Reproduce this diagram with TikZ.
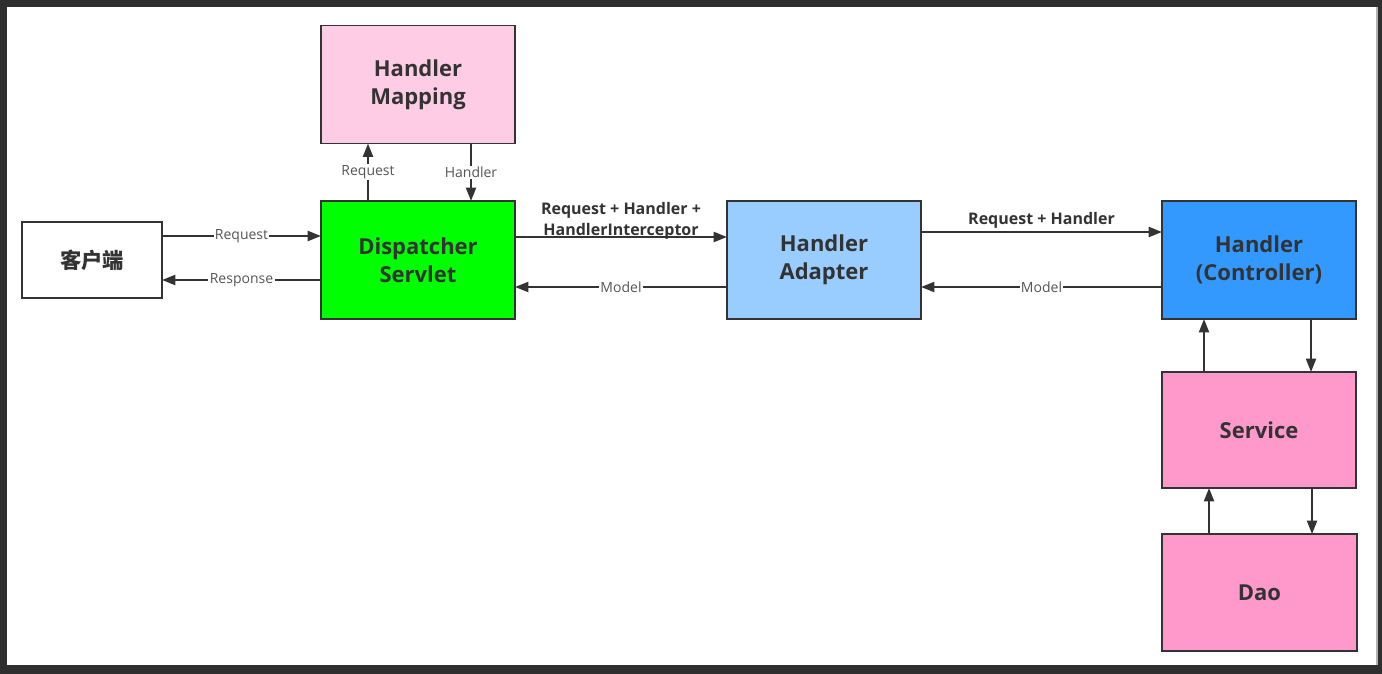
\documentclass[tikz,border=0pt]{standalone}
\usepackage{fontspec}
\setmainfont{Open Sans}
\newfontfamily\cjk{Noto Sans CJK SC}
\usetikzlibrary{arrows.meta}
\definecolor{ink}{HTML}{333333}
\definecolor{lblgray}{HTML}{555555}
\definecolor{framec}{HTML}{2F2F2F}
\definecolor{hmfill}{HTML}{FFCCE6}
\definecolor{dsfill}{HTML}{00FF00}
\definecolor{hafill}{HTML}{99CCFF}
\definecolor{hcfill}{HTML}{3399FF}
\definecolor{svfill}{HTML}{FF99CC}
\begin{document}
\begin{tikzpicture}[x=0.75pt,y=-0.75pt,
  box/.style={draw=ink, line width=1.2pt, text=ink,
    font=\fontsize{16.5}{21}\selectfont\bfseries, align=center,
    inner sep=0pt, outer sep=0pt, minimum width=145.5pt, minimum height=88.5pt},
  arr/.style={draw=ink, line width=1.5pt, -{Triangle[length=10pt,width=7.5pt]}},
  lbl/.style={fill=white, text=lblgray, font=\fontsize{10.5}{12}\selectfont, inner sep=1pt},
  blbl/.style={text=ink, font=\fontsize{12}{16}\selectfont\bfseries, align=center, inner sep=1pt}]
\useasboundingbox (0,0) rectangle (1382,674);
\fill[framec] (0,0) rectangle (1382,674);
\fill[white] (7,7) rectangle (1376,665);
\draw[gray!60, line width=0.8pt] (1377,7) -- (1377,665);

\node[box, fill=hmfill] (hm) at (418,84.5) {Handler\\Mapping};
\node[box, fill=dsfill] (ds) at (418,260) {Dispatcher\\Servlet};
\node[box, fill=white, minimum width=105pt, minimum height=57pt,
      font=\cjk\fontsize{16}{20}\selectfont\bfseries] (cl) at (92,260) {客户端};
\node[box, fill=hafill] (ha) at (824,260) {Handler\\Adapter};
\node[box, fill=hcfill] (hc) at (1259,260) {Handler\\(Controller)};
\node[box, fill=svfill, minimum height=87pt] (sv) at (1259,430) {Service};
\node[box, fill=svfill, minimum width=146.25pt, minimum height=87.75pt] (dao) at (1259.5,592.5) {Dao};

% client <-> dispatcher
\draw[arr] (cl.east |- 0,236) -- node[lbl] {Request} (ds.west |- 0,236);
\draw[arr] (ds.west |- 0,280) -- node[lbl] {Response} (cl.east |- 0,280);

% dispatcher <-> mapping
\draw[arr] (ds.north -| 368,0) -- node[lbl] {Request} (hm.south -| 368,0);
\draw[arr] (hm.south -| 471,0) -- node[lbl] {Handler} (ds.north -| 471,0);

% dispatcher <-> adapter
\draw[arr] (ds.east |- 0,237) -- node[blbl, above=-3.5pt] {Request + Handler +\\HandlerInterceptor} (ha.west |- 0,237);
\draw[arr] (ha.west |- 0,287) -- node[lbl] {Model} (ds.east |- 0,287);

% adapter <-> controller
\draw[arr] (ha.east |- 0,232) -- node[blbl, above=1pt] {Request + Handler} (hc.west |- 0,232);
\draw[arr] (hc.west |- 0,287) -- node[lbl] {Model} (ha.east |- 0,287);

% controller <-> service
\draw[arr] (sv.north -| 1204,0) -- (hc.south -| 1204,0);
\draw[arr] (hc.south -| 1311,0) -- (sv.north -| 1311,0);

% service <-> dao
\draw[arr] (dao.north -| 1209,0) -- (sv.south -| 1209,0);
\draw[arr] (sv.south -| 1312,0) -- (dao.north -| 1312,0);
\end{tikzpicture}
\end{document}
